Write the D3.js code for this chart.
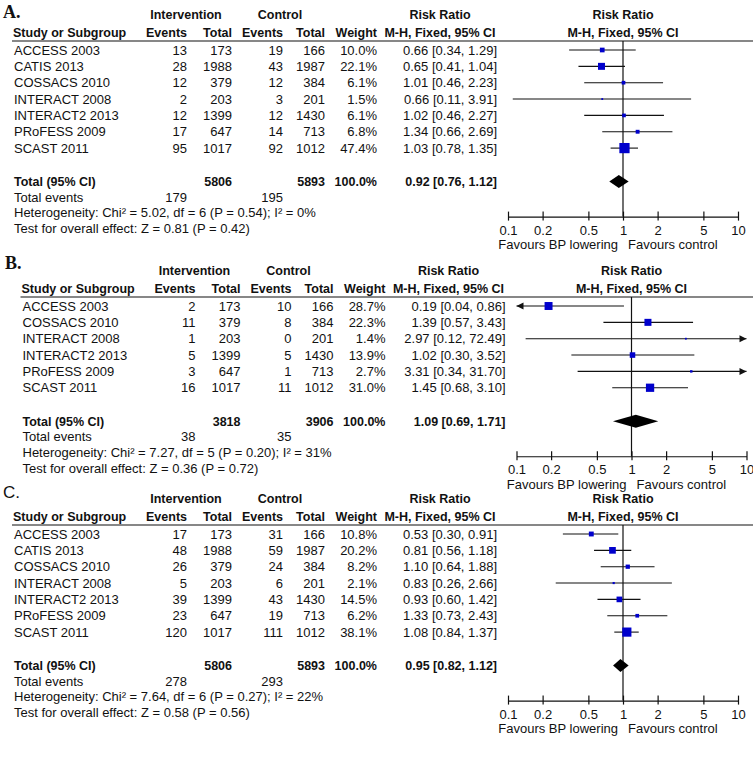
<!DOCTYPE html>
<html><head><meta charset="utf-8">
<script src="https://cdn.jsdelivr.net/npm/d3@7/dist/d3.min.js"></script>
<style>body{margin:0;background:#fff} svg text{font-family:Arial,"Liberation Sans",sans-serif;fill:#111}</style>
</head><body>
<svg id="chart" width="753" height="758"></svg>
<script>
// ---------- shared ----------
const tickValues = [0.1, 0.2, 0.5, 1, 2, 5, 10];
const favourLabels = ["Favours BP lowering", "Favours control"];

// ---------- panel A ----------
const studiesA   = ["ACCESS 2003","CATIS 2013","COSSACS 2010","INTERACT 2008","INTERACT2 2013","PRoFESS 2009","SCAST 2011"];
const intEventsA = [13, 28, 12, 2, 12, 17, 95];
const intTotalA  = [173, 1988, 379, 203, 1399, 647, 1017];
const ctlEventsA = [19, 43, 12, 3, 12, 14, 92];
const ctlTotalA  = [166, 1987, 384, 201, 1430, 713, 1012];
const weightA    = [10.0, 22.1, 6.1, 1.5, 6.1, 6.8, 47.4];
const rrA        = [0.66, 0.65, 1.01, 0.66, 1.02, 1.34, 1.03];
const lowA       = [0.34, 0.41, 0.46, 0.11, 0.46, 0.66, 0.78];
const highA      = [1.29, 1.04, 2.23, 3.91, 2.27, 2.69, 1.35];
const sumTotalA  = [5806, 5893];
const sumEventsA = [179, 195];
const pooledA    = [0.92, 0.76, 1.12];
const hetA       = [5.02, 6, 0.54, 0];   // Chi², df, P, I²
const overallA   = [0.81, 0.42];         // Z, P

// ---------- panel B ----------
const studiesB   = ["ACCESS 2003","COSSACS 2010","INTERACT 2008","INTERACT2 2013","PRoFESS 2009","SCAST 2011"];
const intEventsB = [2, 11, 1, 5, 3, 16];
const intTotalB  = [173, 379, 203, 1399, 647, 1017];
const ctlEventsB = [10, 8, 0, 5, 1, 11];
const ctlTotalB  = [166, 384, 201, 1430, 713, 1012];
const weightB    = [28.7, 22.3, 1.4, 13.9, 2.7, 31.0];
const rrB        = [0.19, 1.39, 2.97, 1.02, 3.31, 1.45];
const lowB       = [0.04, 0.57, 0.12, 0.30, 0.34, 0.68];
const highB      = [0.86, 3.43, 72.49, 3.52, 31.70, 3.10];
const sumTotalB  = [3818, 3906];
const sumEventsB = [38, 35];
const pooledB    = [1.09, 0.69, 1.71];
const hetB       = [7.27, 5, 0.20, 31];
const overallB   = [0.36, 0.72];

// ---------- panel C ----------
const studiesC   = ["ACCESS 2003","CATIS 2013","COSSACS 2010","INTERACT 2008","INTERACT2 2013","PRoFESS 2009","SCAST 2011"];
const intEventsC = [17, 48, 26, 5, 39, 23, 120];
const intTotalC  = [173, 1988, 379, 203, 1399, 647, 1017];
const ctlEventsC = [31, 59, 24, 6, 43, 19, 111];
const ctlTotalC  = [166, 1987, 384, 201, 1430, 713, 1012];
const weightC    = [10.8, 20.2, 8.2, 2.1, 14.5, 6.2, 38.1];
const rrC        = [0.53, 0.81, 1.10, 0.83, 0.93, 1.33, 1.08];
const lowC       = [0.30, 0.56, 0.64, 0.26, 0.60, 0.73, 0.84];
const highC      = [0.91, 1.18, 1.88, 2.66, 1.42, 2.43, 1.37];
const sumTotalC  = [5806, 5893];
const sumEventsC = [278, 293];
const pooledC    = [0.95, 0.82, 1.12];
const hetC       = [7.64, 6, 0.27, 22];
const overallC   = [0.58, 0.56];

// ---------- layout ----------
const svg = d3.select("#chart");
const FS = 13, FB = 12.5;     // regular / bold font sizes
const ROW = 16.35;
const BLUE = "#0000cc";
const sizeScale = d3.scaleSqrt().domain([0, 50]).range([0, 10.5]);

const panels = [
  {letter:"A.", lx:3, ly:18, serif:true, dx:0, dy:0,
   studies:studiesA, ie:intEventsA, it:intTotalA, ce:ctlEventsA, ct:ctlTotalA, w:weightA, rr:rrA, lo:lowA, hi:highA,
   tot:sumTotalA, ev:sumEventsA, pooled:pooledA, het:hetA, ov:overallA},
  {letter:"B.", lx:5, ly:269, serif:true, dx:8.5, dy:256,
   studies:studiesB, ie:intEventsB, it:intTotalB, ce:ctlEventsB, ct:ctlTotalB, w:weightB, rr:rrB, lo:lowB, hi:highB,
   tot:sumTotalB, ev:sumEventsB, pooled:pooledB, het:hetB, ov:overallB},
  {letter:"C.", lx:3, ly:498, serif:false, dx:0, dy:484,
   studies:studiesC, ie:intEventsC, it:intTotalC, ce:ctlEventsC, ct:ctlTotalC, w:weightC, rr:rrC, lo:lowC, hi:highC,
   tot:sumTotalC, ev:sumEventsC, pooled:pooledC, het:hetC, ov:overallC}
];

const f2 = d3.format(".2f"), f1 = d3.format(".1f");
const rrText = (r, l, h) => `${f2(r)} [${f2(l)}, ${f2(h)}]`;

function txt(g, s, x, yc, anchor, bold, size) {
  const fs = size || (bold ? FB : FS);
  return g.append("text").attr("x", x).attr("y", yc + 0.35 * fs)
    .attr("text-anchor", anchor || "start")
    .attr("font-size", fs).attr("font-weight", bold ? "bold" : "normal")
    .text(s);
}

panels.forEach(p => {
  // panel letter
  svg.append("text").attr("x", p.lx).attr("y", p.ly)
    .attr("font-size", p.serif ? 18 : 17)
    .attr("font-weight", p.serif ? "bold" : "normal")
    .style("font-family", p.serif ? "'Liberation Serif','Times New Roman',serif" : "Arial,'Liberation Sans',sans-serif")
    .text(p.letter);

  const g = svg.append("g").attr("transform", `translate(${p.dx},${p.dy})`);
  const n = p.studies.length;
  const rowY = i => 50 + i * ROW;
  const yTot = rowY(n - 1) + 33.5;
  const yAxis = yTot + 35;
  const x = d3.scaleLog().domain([0.1, 10]).range([508, 738]);
  const cx = x(1);

  // column headers
  txt(g, "Intervention", 186, 15, "middle", true);
  txt(g, "Control", 280, 15, "middle", true);
  txt(g, "Risk Ratio", 440, 15, "middle", true);
  txt(g, "Risk Ratio", cx, 15, "middle", true);
  txt(g, "Study or Subgroup", 13, 33, "start", true);
  txt(g, "Events", 187, 33, "end", true);
  txt(g, "Total", 232, 33, "end", true);
  txt(g, "Events", 283, 33, "end", true);
  txt(g, "Total", 325, 33, "end", true);
  txt(g, "Weight", 377, 33, "end", true);
  txt(g, "M-H, Fixed, 95% CI", 440, 33, "middle", true);
  txt(g, "M-H, Fixed, 95% CI", cx, 33, "middle", true);
  g.append("line").attr("x1", 12).attr("x2", 760).attr("y1", 41).attr("y2", 41)
    .attr("stroke", "#111").attr("stroke-width", 1.2);

  // study rows
  p.studies.forEach((s, i) => {
    const y = rowY(i);
    txt(g, s, 14, y, "start");
    txt(g, p.ie[i], 187, y, "end");
    txt(g, p.it[i], 232, y, "end");
    txt(g, p.ce[i], 283, y, "end");
    txt(g, p.ct[i], 325, y, "end");
    txt(g, f1(p.w[i]) + "%", 377, y, "end");
    txt(g, rrText(p.rr[i], p.lo[i], p.hi[i]), 497, y, "end");
  });

  // totals
  txt(g, "Total (95% CI)", 14, yTot, "start", true);
  txt(g, p.tot[0], 232, yTot, "end", true);
  txt(g, p.tot[1], 325, yTot, "end", true);
  txt(g, "100.0%", 377, yTot, "end", true);
  txt(g, rrText(p.pooled[0], p.pooled[1], p.pooled[2]), 497, yTot, "end", true);
  txt(g, "Total events", 14, yTot + 15.5, "start");
  txt(g, p.ev[0], 187, yTot + 15.5, "end");
  txt(g, p.ev[1], 283, yTot + 15.5, "end");
  txt(g, `Heterogeneity: Chi\u00B2 = ${f2(p.het[0])}, df = ${p.het[1]} (P = ${f2(p.het[2])}); I\u00B2 = ${p.het[3]}%`, 14, yTot + 31, "start");
  txt(g, `Test for overall effect: Z = ${f2(p.ov[0])} (P = ${f2(p.ov[1])})`, 14, yTot + 47, "start");

  // vertical line of no effect
  g.append("line").attr("x1", cx).attr("x2", cx).attr("y1", 41).attr("y2", yAxis)
    .attr("stroke", "#111").attr("stroke-width", 1.2);

  // CIs and squares
  const [d0, d1] = x.domain();
  p.studies.forEach((s, i) => {
    const y = rowY(i);
    const a = Math.max(p.lo[i], d0), b = Math.min(p.hi[i], d1);
    g.append("line").attr("x1", x(a)).attr("x2", x(b)).attr("y1", y).attr("y2", y)
      .attr("stroke", "#111").attr("stroke-width", 1.1);
    if (p.lo[i] < d0) {
      const ax = x(d0);
      g.append("path").attr("d", `M${ax},${y}L${ax + 7},${y - 3.5}L${ax + 7},${y + 3.5}Z`).attr("fill", "#111");
    }
    if (p.hi[i] > d1) {
      const ax = x(d1);
      g.append("path").attr("d", `M${ax},${y}L${ax - 7},${y - 3.5}L${ax - 7},${y + 3.5}Z`).attr("fill", "#111");
    }
    const sz = Math.max(sizeScale(p.w[i]), 1.8);
    g.append("rect").attr("x", x(p.rr[i]) - sz / 2).attr("y", y - sz / 2)
      .attr("width", sz).attr("height", sz).attr("fill", BLUE);
  });

  // pooled diamond
  g.append("path").attr("d",
    `M${x(p.pooled[1])},${yTot}L${x(p.pooled[0])},${yTot - 6.5}L${x(p.pooled[2])},${yTot}L${x(p.pooled[0])},${yTot + 6.5}Z`)
    .attr("fill", "#000");

  // axis
  const axis = d3.axisBottom(x).tickValues(tickValues).tickFormat(d => d)
    .tickSizeOuter(0).tickSizeInner(4).tickPadding(5);
  const ag = g.append("g").attr("transform", `translate(0,${yAxis})`).call(axis);
  ag.select(".domain").attr("stroke", "#111").attr("stroke-width", 1.2);
  ag.selectAll(".tick line").attr("y1", -5).attr("y2", 4).attr("stroke", "#111").attr("stroke-width", 1.2);
  ag.selectAll(".tick text").attr("font-size", FS).style("font-family", "Arial,'Liberation Sans',sans-serif").attr("fill", "#111");

  txt(g, favourLabels[0], cx - 5, yAxis + 28, "end");
  txt(g, favourLabels[1], cx + 5, yAxis + 28, "start");
});
</script>
</body></html>
